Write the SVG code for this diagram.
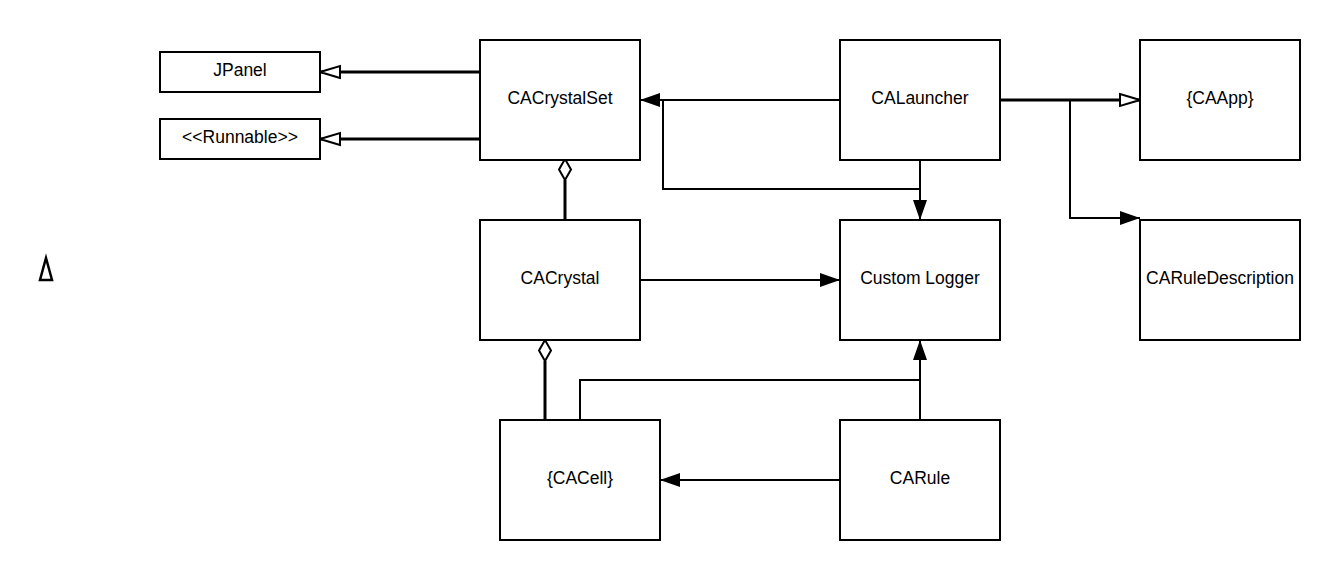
<svg xmlns="http://www.w3.org/2000/svg" width="1340" height="580" viewBox="0 0 1340 580">
<style>
.box{fill:#fff;stroke:#000;stroke-width:2}
.lbl{font-family:"Liberation Sans",Arial,sans-serif;font-size:17.5px;fill:#000;text-anchor:middle}
.thin{fill:none;stroke:#000;stroke-width:2}
.thick{fill:none;stroke:#000;stroke-width:3}
</style>
<defs>
<marker id="filled" viewBox="0 0 20 14" refX="20" refY="7" markerWidth="20" markerHeight="14" markerUnits="userSpaceOnUse" orient="auto">
<path d="M0,0 L20,7 L0,14 Z" fill="#000"/>
</marker>
<marker id="hollow" viewBox="0 0 24 16" refX="22" refY="8" markerWidth="24" markerHeight="16" markerUnits="userSpaceOnUse" orient="auto">
<path d="M2,2 L22,8 L2,14 Z" fill="#fff" stroke="#000" stroke-width="2"/>
</marker>
</defs>
<rect width="1340" height="580" fill="#fff"/>
<g id="connectors">
<path class="thick" d="M480,72 H320" marker-end="url(#hollow)"/>
<path class="thick" d="M480,139 H320" marker-end="url(#hollow)"/>
<path class="thin" d="M840,100 H640" marker-end="url(#filled)"/>
<path class="thin" d="M663,100 V189 H920"/>
<path class="thin" d="M920,160 V220" marker-end="url(#filled)"/>
<path class="thick" d="M1000,100 H1140" marker-end="url(#hollow)"/>
<path class="thin" d="M1070,100 V218 H1140" marker-end="url(#filled)"/>
<path class="thin" d="M640,280 H840" marker-end="url(#filled)"/>
<path class="thin" d="M840,480 H660" marker-end="url(#filled)"/>
<path class="thin" d="M920,420 V340" marker-end="url(#filled)"/>
<path class="thin" d="M580,420 V380 H920"/>
<path class="thick" d="M565,180 V220"/>
<path d="M565,159 L571,169.5 L565,180 L559,169.5 Z" fill="#fff" stroke="#000" stroke-width="2"/>
<path class="thick" d="M545,361 V420"/>
<path d="M545,340 L551,350.5 L545,361 L539,350.5 Z" fill="#fff" stroke="#000" stroke-width="2"/>
</g>
<g id="JPanel"><rect class="box" x="160" y="52" width="160" height="40"/><text class="lbl" x="240" y="76">JPanel</text></g>
<g id="Runnable"><rect class="box" x="160" y="119" width="160" height="40"/><text class="lbl" x="240" y="143">&lt;&lt;Runnable&gt;&gt;</text></g>
<g id="CACrystalSet"><rect class="box" x="480" y="40" width="160" height="120"/><text class="lbl" x="560" y="104">CACrystalSet</text></g>
<g id="CALauncher"><rect class="box" x="840" y="40" width="160" height="120"/><text class="lbl" x="920" y="104">CALauncher</text></g>
<g id="CAApp"><rect class="box" x="1140" y="40" width="160" height="120"/><text class="lbl" x="1220" y="104">{CAApp}</text></g>
<g id="CACrystal"><rect class="box" x="480" y="220" width="160" height="120"/><text class="lbl" x="560" y="284">CACrystal</text></g>
<g id="CustomLogger"><rect class="box" x="840" y="220" width="160" height="120"/><text class="lbl" x="920" y="284">Custom Logger</text></g>
<g id="CARuleDescription"><rect class="box" x="1140" y="220" width="160" height="120"/><text class="lbl" x="1220" y="284">CARuleDescription</text></g>
<g id="CACell"><rect class="box" x="500" y="420" width="160" height="120"/><text class="lbl" x="580" y="484">{CACell}</text></g>
<g id="CARule"><rect class="box" x="840" y="420" width="160" height="120"/><text class="lbl" x="920" y="484">CARule</text></g>
<g id="triangle"><path d="M46,258 L52,280 L40,280 Z" fill="#fff" stroke="#000" stroke-width="2.5"/></g>
</svg>
